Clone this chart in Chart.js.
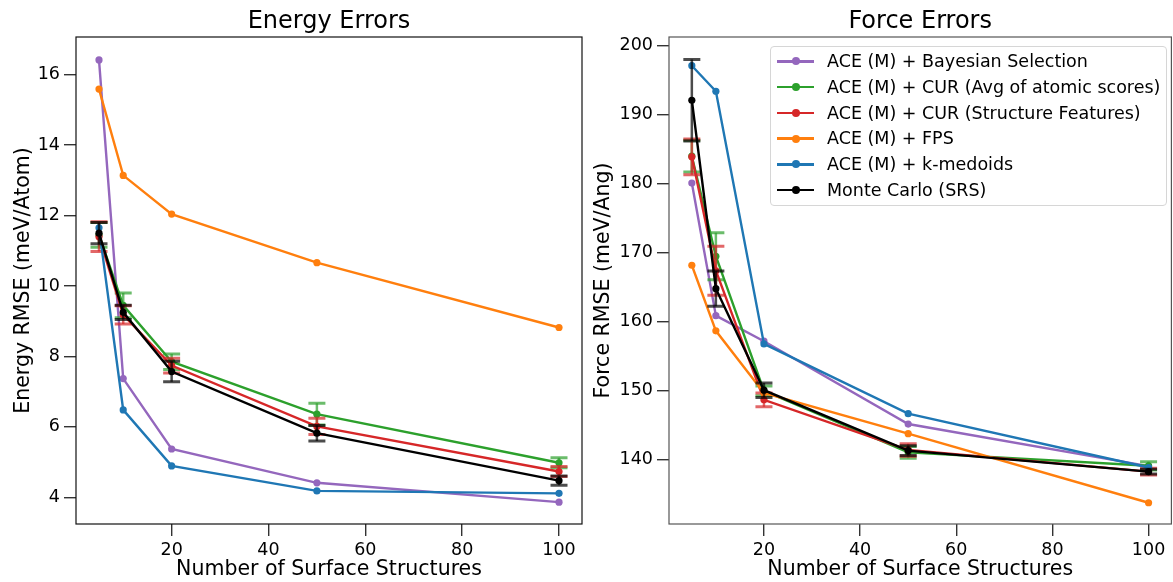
<!DOCTYPE html>
<html>
<head>
<meta charset="utf-8">
<script src="https://cdn.jsdelivr.net/npm/chart.js@4.4.1/dist/chart.umd.min.js"></script>
<style>
  html, body { margin:0; padding:0; background:#fff; overflow:hidden; width:1173px; height:582px; }
  #wrap { position:relative; width:1173px; height:582px; overflow:hidden; font-family:"DejaVu Sans", sans-serif; }
  #c1 { position:absolute; left:0; top:0; }
  #c2 { position:absolute; left:590px; top:0; }
  #legend { position:absolute; left:770px; top:46px; width:397px; height:160px; border:1px solid #d6d6d6;
            border-radius:4px; background:rgba(255,255,255,0.85); z-index:5; box-sizing:border-box; }
  .row { position:absolute; left:0; height:20px; }
  .ln { position:absolute; left:6px; width:37px; height:2.5px; top:9px; }
  .dot { position:absolute; left:20.5px; width:8px; height:8px; border-radius:50%; top:6.25px; }
  .tx { position:absolute; left:56px; top:0; font-size:17.5px; line-height:20px; white-space:nowrap; color:#000; }
</style>
</head>
<body>
<div id="wrap">
  <canvas id="c1" width="590" height="582"></canvas>
  <canvas id="c2" width="585" height="582"></canvas>
  <div id="legend"></div>
</div>
<script>
// ---------- data ----------
const xs = [5, 10, 20, 50, 100];
const xTicks = [20, 40, 60, 80, 100];
const yTicksEnergy = [4, 6, 8, 10, 12, 14, 16];
const yTicksForce = [140, 150, 160, 170, 180, 190, 200];

const seriesNames = [
  "ACE (M) + Bayesian Selection",
  "ACE (M) + CUR (Avg of atomic scores)",
  "ACE (M) + CUR (Structure Features)",
  "ACE (M) + FPS",
  "ACE (M) + k-medoids",
  "Monte Carlo (SRS)"
];
const seriesColors = ["#9467bd", "#2ca02c", "#d62728", "#ff7f0e", "#1f77b4", "#000000"];

// Energy RMSE (meV/Atom)
const energyBayes     = [16.42, 7.37, 5.37, 4.41, 3.86];
const energyCurAvg    = [11.45, 9.45, 7.85, 6.36, 4.98];
const energyCurAvgErr = [0.35, 0.35, 0.22, 0.31, 0.14];
const energyCurStr    = [11.40, 9.18, 7.74, 6.01, 4.73];
const energyCurStrErr = [0.42, 0.26, 0.21, 0.23, 0.14];
const energyFps       = [15.59, 13.14, 12.04, 10.66, 8.82];
const energyKmed      = [11.65, 6.48, 4.89, 4.18, 4.11];
const energyMc        = [11.50, 9.25, 7.57, 5.82, 4.47];
const energyMcErr     = [0.30, 0.20, 0.29, 0.22, 0.13];

// Force RMSE (meV/Ang)
const forceBayes     = [180.1, 160.9, 157.2, 145.2, 139.1];
const forceCurAvg    = [184.0, 169.5, 150.0, 141.1, 139.15];
const forceCurAvgErr = [2.3, 3.4, 0.7, 0.85, 0.6];
const forceCurStr    = [183.9, 167.4, 148.7, 141.45, 138.3];
const forceCurStrErr = [2.6, 3.55, 1.0, 0.9, 0.5];
const forceFps       = [168.2, 158.7, 149.7, 143.8, 133.8];
const forceKmed      = [197.1, 193.4, 156.8, 146.7, 138.9];
const forceMc        = [192.1, 164.8, 150.1, 141.35, 138.3];
const forceMcErr     = [5.9, 2.55, 1.05, 0.7, 0.35];

// ---------- helpers ----------
const FONT = "'DejaVu Sans', sans-serif";
function mkDataset(i, vals, errs) {
  return {
    label: seriesNames[i],
    data: xs.map((x, j) => ({x: x, y: vals[j]})),
    errors: errs || null,
    borderColor: seriesColors[i],
    backgroundColor: seriesColors[i],
    pointBackgroundColor: seriesColors[i],
    pointBorderWidth: 0,
    pointRadius: 3.6,
    pointHoverRadius: 3.6,
    borderWidth: 2.4,
    tension: 0,
    fill: false,
    order: 5 - i
  };
}

const errorBarPlugin = {
  id: 'errbars',
  afterDatasetDraw(chart, args) {
    const ds = chart.data.datasets[args.index];
    if (!ds.errors) return;
    const {ctx, scales: {x, y}} = chart;
    ctx.save();
    ctx.strokeStyle = ds.borderColor;
    ctx.globalAlpha = 0.7;
    ds.data.forEach((p, j) => {
      const e = ds.errors[j];
      const px = x.getPixelForValue(p.x);
      const yt = y.getPixelForValue(p.y + e);
      const yb = y.getPixelForValue(p.y - e);
      ctx.lineWidth = 2.5;
      ctx.beginPath(); ctx.moveTo(px, yt); ctx.lineTo(px, yb); ctx.stroke();
      ctx.lineWidth = 3;
      ctx.beginPath();
      ctx.moveTo(px - 8.5, yt); ctx.lineTo(px + 8.5, yt);
      ctx.moveTo(px - 8.5, yb); ctx.lineTo(px + 8.5, yb);
      ctx.stroke();
    });
    ctx.restore();
  }
};

const framePlugin = {
  id: 'frame',
  afterDatasetsDraw(chart, args, opts) {
    const {ctx, chartArea: a} = chart;
    ctx.save();
    ctx.strokeStyle = opts.color || '#000';
    ctx.lineWidth = 1.2;
    ctx.strokeRect(a.left, a.top, a.right - a.left, a.bottom - a.top);
    ctx.fillStyle = '#000';
    ctx.font = "24px " + FONT;
    ctx.textAlign = 'center';
    ctx.textBaseline = 'middle';
    ctx.fillText(opts.title, (a.left + a.right) / 2, 22);
    ctx.restore();
  }
};

function mkChart(canvas, datasets, cfg) {
  return new Chart(canvas, {
    type: 'line',
    data: { datasets: datasets },
    plugins: [errorBarPlugin, framePlugin],
    options: {
      responsive: false,
      animation: false,
      devicePixelRatio: 1,
      layout: { padding: { left: 0, right: cfg.padRight, top: 37, bottom: 0 } },
      plugins: {
        legend: { display: false },
        tooltip: { enabled: false },
        frame: { title: cfg.title, color: cfg.frameColor }
      },
      scales: {
        x: {
          type: 'linear', min: 0.25, max: 104.75,
          afterBuildTicks: s => { s.ticks = xTicks.map(v => ({value: v})); },
          afterFit: s => { s.height = 58; },
          border: { display: false },
          grid: { drawOnChartArea: false, drawTicks: true, tickLength: 12, color: '#333', lineWidth: 1.4 },
          ticks: { color: '#000', font: { family: FONT, size: 17.5 }, padding: 4, maxRotation: 0,
                   callback: v => String(v) },
          title: { display: true, text: 'Number of Surface Structures', color: '#000',
                   font: { family: FONT, size: 20.5 }, padding: { top: 0, bottom: 0 } }
        },
        y: {
          type: 'linear', min: cfg.ymin, max: cfg.ymax,
          afterBuildTicks: s => { s.ticks = cfg.yTicks.map(v => ({value: v})); },
          afterFit: s => { s.width = cfg.yWidth; },
          border: { display: false },
          grid: { drawOnChartArea: false, drawTicks: true, tickLength: 12, color: '#333', lineWidth: 1.4 },
          ticks: { color: '#000', font: { family: FONT, size: 17.5 }, padding: 4,
                   callback: v => String(v) },
          title: { display: true, text: cfg.ytitle, color: '#000',
                   font: { family: FONT, size: 20.5 }, padding: { top: cfg.yTitlePad, bottom: 0 } }
        }
      }
    }
  });
}

mkChart(document.getElementById('c1'), [
  mkDataset(0, energyBayes),
  mkDataset(1, energyCurAvg, energyCurAvgErr),
  mkDataset(2, energyCurStr, energyCurStrErr),
  mkDataset(3, energyFps),
  mkDataset(4, energyKmed),
  mkDataset(5, energyMc, energyMcErr)
], { title: 'Energy Errors', ytitle: 'Energy RMSE (meV/Atom)', ymin: 3.24, ymax: 17.07,
     yTicks: yTicksEnergy, yWidth: 76, yTitlePad: 11, padRight: 8, frameColor: '#111' });

mkChart(document.getElementById('c2'), [
  mkDataset(0, forceBayes),
  mkDataset(1, forceCurAvg, forceCurAvgErr),
  mkDataset(2, forceCurStr, forceCurStrErr),
  mkDataset(3, forceFps),
  mkDataset(4, forceKmed),
  mkDataset(5, forceMc, forceMcErr)
], { title: 'Force Errors', ytitle: 'Force RMSE (meV/Ang)', ymin: 130.72, ymax: 201.26,
     yTicks: yTicksForce, yWidth: 79, yTitlePad: 1.5, padRight: 0, frameColor: '#555' });

// ---------- legend ----------
const leg = document.getElementById('legend');
seriesNames.forEach((name, i) => {
  const row = document.createElement('div');
  row.className = 'row';
  row.style.top = (4 + 25.75 * i) + 'px';
  row.style.width = '100%';
  row.innerHTML = '<div class="ln" style="background:' + seriesColors[i] + '"></div>' +
                  '<div class="dot" style="background:' + seriesColors[i] + '"></div>' +
                  '<div class="tx"></div>';
  row.querySelector('.tx').textContent = name;
  leg.appendChild(row);
});
</script>
</body>
</html>
